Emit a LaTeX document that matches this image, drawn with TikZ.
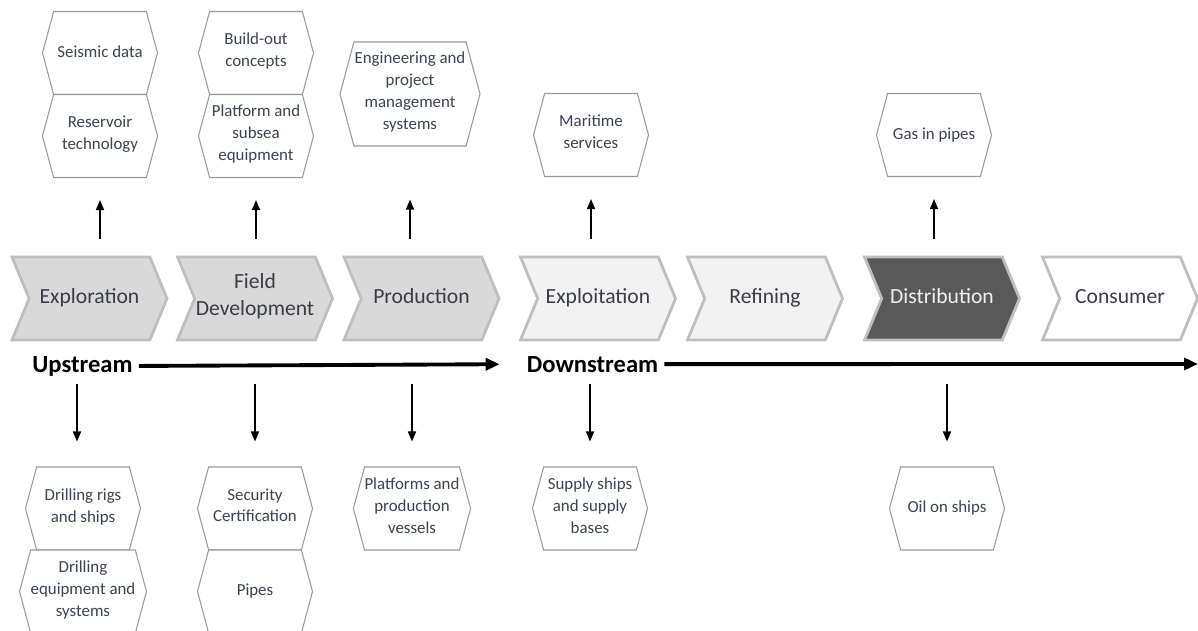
\documentclass[tikz,border=0pt]{standalone}
\usepackage{fontspec}
\setmainfont{Carlito}
\usetikzlibrary{shapes.symbols,arrows.meta}
\definecolor{chevline}{HTML}{BFBFBF}
\definecolor{upfill}{HTML}{D9D9D9}
\definecolor{downfill}{HTML}{F2F2F2}
\definecolor{distfill}{HTML}{595959}
\definecolor{hexline}{HTML}{9A9A9A}
\definecolor{hextext}{HTML}{3E4352}
\definecolor{chevtext}{HTML}{3A3D48}
\begin{document}
\begin{tikzpicture}[
  stage/.style={signal, signal from=west, signal to=east, signal pointer angle=135,
    draw=chevline, line width=1.6pt, minimum width=3.1cm, minimum height=1.66cm,
    inner sep=0pt, align=center, text=chevtext, font=\fontsize{12.3}{15}\selectfont,
    execute at begin node=\strut, execute at end node=\strut},
  hexa/.style={signal, signal to=west and east, signal pointer angle=150,
    draw=hexline, line width=0.6pt, fill=white, minimum width=2.3cm, minimum height=1.66cm,
    inner sep=0pt, align=center, text=hextext, font=\fontsize{9.6}{12.5}\selectfont,
    execute at begin node=\strut, execute at end node=\strut},
  stream/.style={font=\bfseries\fontsize{14}{16}\selectfont, anchor=base},
  flow/.style={line width=2.2pt, -{Triangle[length=0.28cm,width=0.24cm]}},
  up arrow/.style={line width=0.9pt, -{Triangle[length=0.2cm,width=0.16cm]}, shorten <=0.34cm, shorten >=0.44cm},
  down arrow/.style={line width=0.9pt, -{Triangle[length=0.2cm,width=0.16cm]}, shorten <=0.86cm, shorten >=0.5cm}]
\useasboundingbox (0,0) rectangle (23.96,-12.62);
% value chain
\node [stage, fill=upfill] (expl) at (1.79,-5.97) {Exploration};
\node [stage, fill=upfill] (field) at (5.10,-5.97) {Field\\Development};
\node [stage, fill=upfill] (prod) at (8.43,-5.97) {Production};
\node [stage, fill=downfill] (exploit) at (11.96,-5.97) {Exploitation};
\node [stage, fill=downfill] (refin) at (15.30,-5.97) {Refining};
\node [stage, fill=distfill, text=white!94!black] (distr) at (18.84,-5.97) {Distribution};
\node [stage, fill=white] (cons) at (22.40,-5.97) {Consumer};
% upstream / downstream
\node [stream] (upstr) at (1.65,-7.44) {Upstream};
\node [stream] (downstr) at (11.85,-7.44) {Downstream};
\coordinate (chainend) at (23.96,-7.28);
\draw [flow, shorten >=0.42cm] (upstr.east) -- (downstr.west);
\draw [flow] (downstr.east) -- (chainend);
% suppliers above
\node [hexa] (seis) at (2.00,-1.06) {Seismic data};
\node [hexa] (resv) at (2.00,-2.72) {Reservoir\\technology};
\node [hexa] (build) at (5.12,-1.06) {Build-out\\concepts};
\node [hexa] (plat) at (5.12,-2.72) {Platform and\\subsea\\equipment};
\node [hexa, minimum width=2.8cm, minimum height=2.08cm] (eng) at (8.20,-1.88) {Engineering and\\project\\management\\systems};
\node [hexa] (mari) at (11.82,-2.70) {Maritime\\services};
\node [hexa] (gas) at (18.68,-2.70) {Gas in pipes};
% suppliers below
\node [hexa] (drill) at (1.66,-10.17) {Drilling rigs\\and ships};
\node [hexa] (dreq) at (1.66,-11.83) {Drilling\\equipment and\\systems};
\node [hexa] (secur) at (5.10,-10.17) {Security\\Certification};
\node [hexa] (pipes) at (5.10,-11.83) {Pipes};
\node [hexa] (platf) at (8.24,-10.17) {Platforms and\\production\\vessels};
\node [hexa] (supply) at (11.80,-10.17) {Supply ships\\and supply\\bases};
\node [hexa] (oil) at (18.94,-10.17) {Oil on ships};
% arrows
\draw [up arrow] (resv.south |- expl.north) -- (resv.south);
\draw [up arrow] (plat.south |- field.north) -- (plat.south);
\draw [up arrow, shorten >=1.06cm] (eng.south |- prod.north) -- (eng.south);
\draw [up arrow] (mari.south |- exploit.north) -- (mari.south);
\draw [up arrow] (gas.south |- distr.north) -- (gas.south);
\draw [down arrow] ([xshift=-0.12cm]drill.north |- expl.south) -- ([xshift=-0.12cm]drill.north);
\draw [down arrow] (secur.north |- field.south) -- (secur.north);
\draw [down arrow] (platf.north |- prod.south) -- (platf.north);
\draw [down arrow] (supply.north |- exploit.south) -- (supply.north);
\draw [down arrow] (oil.north |- distr.south) -- (oil.north);
\end{tikzpicture}
\end{document}
